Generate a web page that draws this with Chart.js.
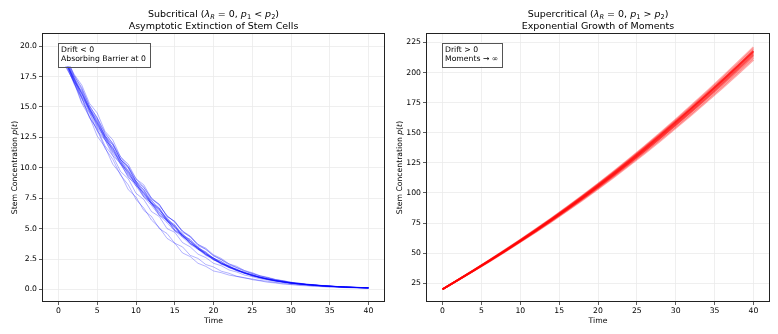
<!DOCTYPE html>
<html><head><meta charset="utf-8">
<script src="https://cdn.jsdelivr.net/npm/chart.js@4.4.0/dist/chart.umd.min.js"></script>
<style>
html,body{margin:0;padding:0;background:#fff;}
#wrap{position:relative;width:778px;height:334px;background:#fff;}
.c{position:absolute;top:0;width:389px;height:334px;}
</style></head><body>
<div id="wrap">
<div class="c" style="left:0"><canvas id="c1" width="389" height="334"></canvas></div>
<div class="c" style="left:389px"><canvas id="c2" width="389" height="334"></canvas></div>
</div>
<script>
// ---------- DATA ----------
const timeLeft = [0,1,2,3,4,5,6,7,8,9,10,11,12,13,14,15,16,17,18,19,20,21,22,23,24,25,26,27,28,29,30,31,32,33,34,35,36,37,38,39,40];
const timeRight = [0,2,4,6,8,10,12,14,16,18,20,22,24,26,28,30,32,34,36,38,40];

const xTickValues = [0,5,10,15,20,25,30,35,40];
const xTickLabels = ['0','5','10','15','20','25','30','35','40'];
const leftYTickValues = [0,2.5,5,7.5,10,12.5,15,17.5,20];
const leftYTickLabels = ['0.0','2.5','5.0','7.5','10.0','12.5','15.0','17.5','20.0'];
const rightYTickValues = [25,50,75,100,125,150,175,200,225];
const rightYTickLabels = ['25','50','75','100','125','150','175','200','225'];

// Subcritical sample paths (blue)
const subA = [20.0,18.9,17.4,16.4,14.9,14.0,12.6,11.9,10.7,10.0,8.9,8.2,7.3,6.7,5.8,5.3,4.5,4.1,3.45,3.05,2.55,2.3,1.87,1.66,1.37,1.23,1.0,0.89,0.74,0.66,0.54,0.49,0.41,0.37,0.31,0.28,0.23,0.21,0.18,0.16,0.13];
const subB = [20.0,18.3,17.0,15.3,14.2,12.6,11.7,10.3,9.5,8.2,7.6,6.5,6.0,5.0,4.6,3.8,3.5,2.8,2.55,2.05,1.85,1.5,1.33,1.08,0.97,0.8,0.71,0.59,0.53,0.44,0.4,0.33,0.3,0.26,0.23,0.2,0.18,0.15,0.13,0.12,0.1];
const subC = [20.0,19.0,17.7,16.8,15.3,14.5,13.0,12.3,10.9,10.3,9.1,8.6,7.5,7.0,6.0,5.6,4.7,4.35,3.6,3.3,2.75,2.45,2.0,1.8,1.47,1.32,1.08,0.96,0.79,0.7,0.57,0.51,0.43,0.38,0.32,0.28,0.24,0.21,0.18,0.16,0.14];
const subD = [20.0,18.5,17.4,15.9,14.9,13.5,12.6,11.4,10.6,9.5,8.8,7.8,7.2,6.3,5.8,4.9,4.5,3.8,3.4,2.85,2.55,2.1,1.9,1.55,1.38,1.12,1.0,0.82,0.73,0.6,0.54,0.45,0.41,0.34,0.31,0.25,0.23,0.19,0.17,0.14,0.13];
const subE = [20.0,18.2,17.1,15.4,14.5,13.0,12.3,11.0,10.4,9.2,8.7,7.6,7.1,6.1,5.7,4.8,4.5,3.75,3.45,2.85,2.6,2.12,1.93,1.57,1.4,1.14,1.02,0.84,0.74,0.61,0.55,0.45,0.41,0.34,0.31,0.25,0.23,0.19,0.17,0.14,0.13];
const subF = [20.0,18.8,17.1,16.3,14.8,13.9,12.6,11.9,10.7,10.1,8.9,8.4,7.4,7.0,6.0,5.6,4.8,4.4,3.7,3.4,2.85,2.55,2.1,1.9,1.55,1.38,1.13,1.0,0.82,0.72,0.59,0.52,0.44,0.39,0.33,0.29,0.24,0.21,0.18,0.16,0.14];
const subG = [20.0,18.6,17.0,15.8,14.2,13.1,11.6,10.7,9.4,8.6,7.4,6.7,5.7,5.1,4.2,3.8,3.0,2.7,2.15,1.9,1.52,1.38,1.18,1.07,0.94,0.86,0.74,0.67,0.57,0.51,0.43,0.39,0.33,0.29,0.25,0.22,0.19,0.17,0.15,0.13,0.11];
const subH = [20.0,18.6,17.3,16.1,14.7,13.6,12.4,11.5,10.4,9.6,8.6,7.9,7.0,6.4,5.6,5.1,4.4,3.9,3.3,2.9,2.45,2.15,1.8,1.58,1.32,1.15,0.96,0.84,0.7,0.62,0.52,0.46,0.39,0.35,0.29,0.26,0.22,0.2,0.17,0.15,0.13];
const subI = [20.0,19.1,17.6,16.6,15.1,14.1,12.8,12.0,10.7,10.0,8.8,8.2,7.1,6.7,5.7,5.3,4.4,4.1,3.4,3.1,2.55,2.3,1.87,1.68,1.36,1.22,0.99,0.88,0.73,0.64,0.53,0.48,0.4,0.36,0.3,0.27,0.23,0.2,0.17,0.15,0.13];
const subJ = [20.0,18.5,16.9,15.7,14.1,13.2,11.8,11.0,9.7,9.1,7.9,7.4,6.4,6.0,5.0,4.7,3.85,3.5,2.9,2.62,2.15,1.95,1.6,1.43,1.18,1.05,0.88,0.78,0.65,0.58,0.48,0.44,0.37,0.33,0.28,0.25,0.21,0.19,0.16,0.14,0.12];
const subK = [20.0,18.9,17.6,16.5,15.1,14.1,12.9,12.0,10.9,10.1,9.1,8.4,7.5,6.9,6.1,5.5,4.8,4.3,3.7,3.3,2.8,2.45,2.1,1.8,1.55,1.3,1.12,0.95,0.81,0.69,0.59,0.5,0.43,0.37,0.32,0.27,0.24,0.2,0.18,0.16,0.14];
const subL = [20.0,18.7,17.1,16.1,14.6,13.7,12.3,11.6,10.3,9.7,8.5,8.0,7.0,6.6,5.6,5.2,4.3,3.95,3.3,3.0,2.45,2.2,1.82,1.62,1.33,1.18,0.96,0.86,0.71,0.63,0.52,0.47,0.4,0.36,0.3,0.27,0.23,0.2,0.17,0.15,0.13];
const subM = [20.0,18.5,17.3,15.8,14.8,13.4,12.5,11.3,10.5,9.4,8.7,7.7,7.1,6.2,5.7,4.9,4.4,3.8,3.35,2.9,2.5,2.12,1.86,1.57,1.36,1.14,0.99,0.83,0.72,0.61,0.53,0.45,0.4,0.34,0.3,0.26,0.23,0.19,0.17,0.15,0.13];
const subN = [20.0,18.8,17.3,16.2,14.8,13.8,12.5,11.7,10.5,9.8,8.7,8.1,7.1,6.6,5.7,5.2,4.4,4.0,3.35,3.0,2.45,2.2,1.82,1.62,1.34,1.19,0.97,0.87,0.71,0.64,0.52,0.47,0.4,0.36,0.3,0.27,0.23,0.2,0.17,0.15,0.13];
const subO = [20.0,18.4,17.2,15.7,14.6,13.3,12.3,11.2,10.3,9.3,8.5,7.6,6.9,6.1,5.5,4.8,4.3,3.7,3.3,2.8,2.45,2.07,1.8,1.53,1.32,1.11,0.96,0.81,0.7,0.6,0.51,0.44,0.39,0.33,0.29,0.25,0.22,0.19,0.16,0.14,0.12];
const subP = [20.0,18.7,17.5,16.1,15.0,13.7,12.7,11.6,10.7,9.7,8.9,7.9,7.3,6.5,5.9,5.1,4.6,3.95,3.5,2.95,2.6,2.18,1.93,1.6,1.41,1.17,1.02,0.85,0.75,0.62,0.55,0.46,0.41,0.35,0.31,0.26,0.23,0.2,0.18,0.15,0.13];

// Supercritical sample paths (red)
const supA = [20,28.0,36.0,44.2,52.6,61.2,70.0,79.0,88.3,97.9,107.7,117.8,128.2,138.9,149.9,161.1,172.6,184.4,196.4,208.6,221.0];
const supB = [20,27.6,35.2,43.0,51.0,59.2,67.6,76.2,85.0,94.0,103.3,112.9,122.7,132.8,143.2,153.8,164.7,175.8,187.2,198.8,210.6];
const supC = [20,27.8,35.6,43.6,51.8,60.2,68.8,77.6,86.7,96.0,105.6,115.5,125.7,136.2,147.0,158.0,169.3,180.8,192.5,204.4,216.5];
const supD = [20,27.9,35.8,43.8,52.1,60.6,69.2,78.1,87.2,96.6,106.2,116.1,126.4,137.0,147.8,158.9,170.2,181.8,193.6,205.6,217.9];
const supE = [20,27.7,35.5,43.4,51.5,59.8,68.3,77.0,86.0,95.2,104.7,114.5,124.6,135.0,145.7,156.7,167.9,179.3,191.0,202.9,215.0];
const supF = [20,27.9,35.9,44.0,52.3,60.8,69.5,78.5,87.7,97.2,106.9,116.9,127.1,137.6,148.4,159.4,170.7,182.2,193.9,205.9,218.2];
const supG = [20,27.8,35.5,43.5,51.6,60.0,68.5,77.3,86.2,95.5,104.9,114.7,124.7,135.0,145.5,156.3,167.3,178.6,190.0,201.7,213.5];
const supH = [20,27.8,35.7,43.7,51.9,60.3,68.9,77.8,86.9,96.2,105.9,115.8,126.0,136.5,147.3,158.4,169.7,181.2,193.0,205.0,217.2];
const supI = [20,27.7,35.4,43.2,51.2,59.5,67.9,76.6,85.5,94.6,104.0,113.6,123.6,133.8,144.3,155.0,166.0,177.2,188.6,200.3,212.2];
const supJ = [20,28.0,35.9,44.1,52.4,61.0,69.7,78.7,87.9,97.4,107.2,117.3,127.6,138.2,149.1,160.2,171.6,183.2,195.1,207.2,219.6];
const supK = [20,27.8,35.7,43.7,51.9,60.4,69.0,77.9,87.0,96.4,106.0,115.9,126.1,136.6,147.4,158.5,169.8,181.4,193.2,205.2,217.4];
const supL = [20,27.8,35.6,43.5,51.7,60.1,68.6,77.4,86.4,95.7,105.3,115.1,125.2,135.6,146.3,157.3,168.5,180.0,191.7,203.6,215.7];
const supM = [20,27.9,35.8,43.9,52.2,60.7,69.4,78.3,87.5,96.9,106.6,116.6,126.8,137.3,148.1,159.2,170.5,182.0,193.8,205.8,218.0];
const supN = [20,27.7,35.5,43.5,51.6,59.9,68.4,77.1,86.1,95.3,104.8,114.6,124.6,134.9,145.5,156.4,167.6,179.0,190.6,202.5,214.5];

const subPaths = [subA,subB,subC,subD,subE,subF,subG,subH,subI,subJ,subK,subL,subM,subN,subO,subP];
const supPaths = [supA,supB,supC,supD,supE,supF,supG,supH,supI,supJ,supK,supL,supM,supN];

// ---------- DRAWING ----------
const FAM = "'DejaVu Sans', sans-serif";

function fontOf(style, size) {
  const it = style.indexOf('i') >= 0 ? 'italic ' : '';
  const sz = style.indexOf('s') >= 0 ? size * 0.7 : size;
  return it + sz + 'px ' + FAM;
}
function drawRich(ctx, segs, x, y, size, align) {
  let total = 0;
  const ws = segs.map(([t, s]) => { ctx.font = fontOf(s, size); const w = ctx.measureText(t).width; total += w; return w; });
  let cx = align === 'center' ? x - total / 2 : x;
  segs.forEach(([t, s], i) => {
    ctx.font = fontOf(s, size);
    ctx.fillText(t, cx, y + (s.indexOf('s') >= 0 ? size * 0.28 : 0));
    cx += ws[i];
  });
}

const ylabelSegs = [['Stem Concentration ','n'],['p','i'],['(','n'],['t','i'],[')','n']];

const deco = {
  id: 'deco',
  afterDraw(chart, args, o) {
    const ctx = chart.ctx, a = chart.chartArea;
    ctx.save();
    ctx.strokeStyle = '#222'; ctx.lineWidth = 1;
    ctx.strokeRect(a.left - 0.5, a.top - 0.5, a.right - a.left + 1, a.bottom - a.top + 1);
    ctx.fillStyle = '#000'; ctx.textBaseline = 'middle'; ctx.textAlign = 'left';
    const cx = (a.left + a.right) / 2;
    drawRich(ctx, o.title1, cx, 15, 9.5, 'center');
    drawRich(ctx, [[o.title2, 'n']], cx, 27, 9.5, 'center');
    drawRich(ctx, [['Time', 'n']], cx, 321, 7.7, 'center');
    ctx.save();
    ctx.translate(o.ylabelX, (a.top + a.bottom) / 2);
    ctx.rotate(-Math.PI / 2);
    drawRich(ctx, ylabelSegs, 0, 0, 7.7, 'center');
    ctx.restore();
    // text box
    ctx.font = '7.7px ' + FAM;
    const tx = a.left + 18, ty = a.top + 16, lh = 9;
    let mw = 0; o.box.forEach(l => { mw = Math.max(mw, ctx.measureText(l).width); });
    const pad = 3.5;
    ctx.fillStyle = '#fff';
    ctx.fillRect(tx - pad, ty - 4 - pad, mw + 2 * pad, lh * o.box.length + 2 * pad - 1);
    ctx.strokeStyle = '#555'; ctx.lineWidth = 1;
    ctx.strokeRect(Math.round(tx - pad) + 0.5, Math.round(ty - 4 - pad) + 0.5, Math.round(mw + 2 * pad), Math.round(lh * o.box.length + 2 * pad - 1));
    ctx.fillStyle = '#000';
    o.box.forEach((l, i) => ctx.fillText(l, tx, ty + i * lh));
    ctx.restore();
  }
};

function makeChart(id, cfg) {
  return new Chart(document.getElementById(id), {
    type: 'line',
    data: {
      datasets: cfg.paths.map(p => ({
        data: cfg.time.map((t, i) => ({ x: t, y: p[i] })),
        borderColor: cfg.color, borderWidth: cfg.lw, pointRadius: 0, tension: 0, fill: false
      }))
    },
    options: {
      responsive: false, animation: false, events: [],
      layout: { padding: { left: 0, right: cfg.padRight, top: 34, bottom: 0 } },
      plugins: { legend: { display: false }, tooltip: { enabled: false }, title: { display: false },
        deco: { title1: cfg.title1, title2: cfg.title2, ylabelX: cfg.ylabelX, box: cfg.box } },
      scales: {
        x: {
          type: 'linear', min: -2, max: 42,
          afterBuildTicks: s => { s.ticks = xTickValues.map(v => ({ value: v })); },
          afterFit: s => { s.height = 33; },
          grid: { color: '#ebebeb', lineWidth: 0.8, tickColor: '#333', tickLength: 4 },
          border: { display: false },
          ticks: { font: { family: FAM, size: 7.7 }, color: '#000', padding: 1, maxRotation: 0, autoSkip: false,
            callback: (v, i) => xTickLabels[i] }
        },
        y: {
          type: 'linear', min: cfg.ymin, max: cfg.ymax,
          afterBuildTicks: s => { s.ticks = cfg.yTicks.map(v => ({ value: v })); },
          afterFit: s => { s.width = cfg.yWidth; },
          grid: { color: '#ebebeb', lineWidth: 0.8, tickColor: '#333', tickLength: 4 },
          border: { display: false },
          ticks: { font: { family: FAM, size: 7.7 }, color: '#000', padding: 2, autoSkip: false,
            callback: (v, i) => cfg.yLabels[i] }
        }
      }
    },
    plugins: [deco]
  });
}

makeChart('c1', {
  time: timeLeft, paths: subPaths, color: 'rgba(0,0,255,0.3)', lw: 1,
  padRight: 5, yWidth: 43, ymin: -0.95, ymax: 21.0,
  yTicks: leftYTickValues, yLabels: leftYTickLabels, ylabelX: 15,
  title1: [['Subcritical (','n'],['λ','i'],['R','si'],[' = 0, ','n'],['p','i'],['1','s'],[' < ','n'],['p','i'],['2','s'],[')','n']],
  title2: 'Asymptotic Extinction of Stem Cells',
  box: ['Drift < 0', 'Absorbing Barrier at 0']
});
makeChart('c2', {
  time: timeRight, paths: supPaths, color: 'rgba(255,0,0,0.33)', lw: 1.8,
  padRight: 9, yWidth: 38, ymin: 10.3, ymax: 232,
  yTicks: rightYTickValues, yLabels: rightYTickLabels, ylabelX: 11,
  title1: [['Supercritical (','n'],['λ','i'],['R','si'],[' = 0, ','n'],['p','i'],['1','s'],[' > ','n'],['p','i'],['2','s'],[')','n']],
  title2: 'Exponential Growth of Moments',
  box: ['Drift > 0', 'Moments → ∞']
});
</script>
</body></html>
